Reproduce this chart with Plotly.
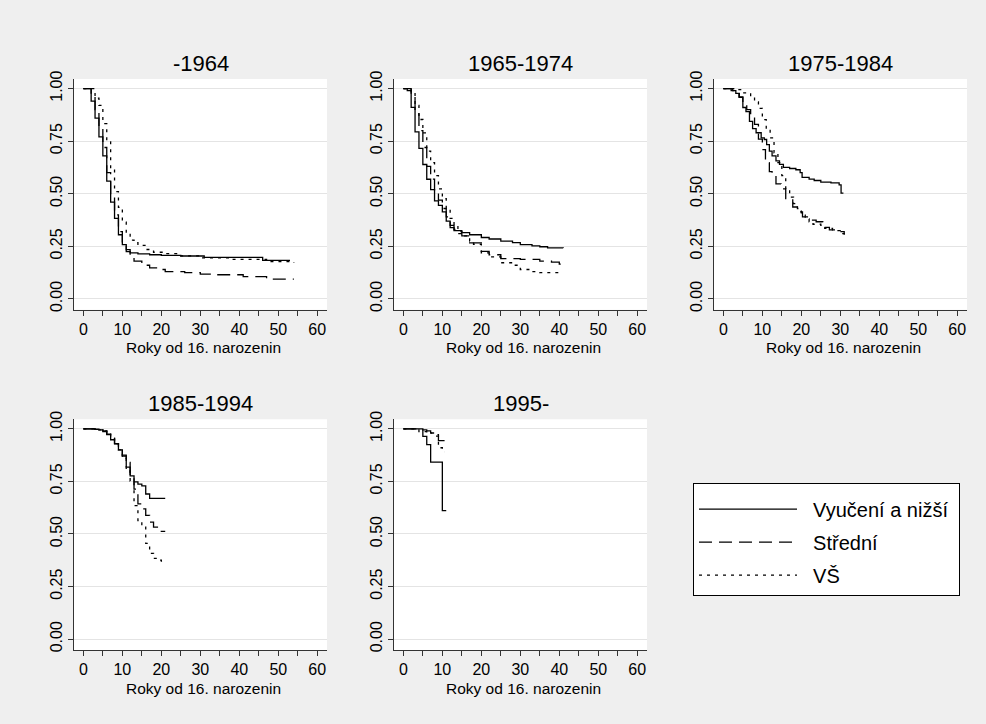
import plotly.graph_objects as go

# ---- data ----
cohorts = ["-1964", "1965-1974", "1975-1984", "1985-1994", "1995-"]
education = ["Vyučení a nižší", "Střední", "VŠ"]

# -1964
t_c1_vyuc = [0, 2, 3, 4, 5, 6, 7, 8, 9, 10, 11, 12, 14, 17, 20, 25, 31, 46, 53]
s_c1_vyuc = [1, 0.94, 0.86, 0.77, 0.68, 0.56, 0.46, 0.383, 0.305, 0.258, 0.234, 0.219, 0.214, 0.21, 0.207, 0.204, 0.198, 0.183, 0.183]
t_c1_stred = [0, 2, 3, 4, 5, 6, 7, 8, 9, 10, 11, 12, 13, 15, 17, 19, 21, 26, 30, 34, 41, 47, 54]
s_c1_stred = [1, 0.97, 0.9, 0.81, 0.72, 0.6, 0.49, 0.4, 0.32, 0.26, 0.225, 0.2, 0.18, 0.16, 0.148, 0.14, 0.13, 0.125, 0.118, 0.115, 0.106, 0.094, 0.094]
t_c1_vs = [0, 3, 4, 5, 6, 7, 8, 9, 10, 11, 12, 13, 14, 16, 18, 21, 25, 30, 38, 47, 54]
s_c1_vs = [1, 0.955, 0.92, 0.833, 0.747, 0.62, 0.51, 0.435, 0.365, 0.31, 0.28, 0.267, 0.255, 0.235, 0.222, 0.215, 0.205, 0.195, 0.188, 0.178, 0.173]

# 1965-1974
t_c2_vyuc = [0, 1, 2, 3, 4, 5, 6, 7, 8, 9, 10, 11, 12, 13, 15, 17, 20, 22, 25, 28, 30, 33, 35, 37, 41]
s_c2_vyuc = [1, 0.99, 0.911, 0.794, 0.716, 0.639, 0.569, 0.52, 0.466, 0.445, 0.414, 0.37, 0.339, 0.325, 0.315, 0.305, 0.292, 0.285, 0.275, 0.268, 0.258, 0.252, 0.248, 0.243, 0.242]
t_c2_stred = [0, 2, 3, 4, 5, 6, 7, 8, 9, 10, 11, 12, 13, 14, 15, 17, 20, 22, 25, 30, 35, 38, 40, 41]
s_c2_stred = [1, 0.97, 0.88, 0.8, 0.72, 0.63, 0.57, 0.51, 0.47, 0.43, 0.39, 0.35, 0.33, 0.31, 0.30, 0.266, 0.226, 0.21, 0.192, 0.188, 0.18, 0.175, 0.165, 0.16]
t_c2_vs = [0, 2, 3, 4, 5, 6, 7, 8, 9, 10, 11, 12, 13, 14, 15, 17, 18, 20, 22, 25, 28, 30, 33, 35, 40]
s_c2_vs = [1, 0.98, 0.92, 0.853, 0.789, 0.703, 0.648, 0.586, 0.523, 0.477, 0.43, 0.383, 0.352, 0.32, 0.30, 0.275, 0.26, 0.219, 0.2, 0.172, 0.16, 0.14, 0.13, 0.125, 0.125]

# 1975-1984
t_c3_vyuc = [0, 2.4, 3.2, 4.1, 5, 5.8, 6.7, 7.5, 8.4, 9.7, 10.5, 11.1, 11.8, 12.5, 13.5, 14.4, 15.4, 17, 18.6, 19.7, 20.2, 22, 23.3, 25, 27.6, 29.7, 30.2, 30.8]
s_c3_vyuc = [1, 0.99, 0.977, 0.958, 0.91, 0.89, 0.844, 0.81, 0.79, 0.766, 0.758, 0.734, 0.703, 0.68, 0.656, 0.64, 0.625, 0.62, 0.614, 0.60, 0.578, 0.57, 0.563, 0.555, 0.552, 0.542, 0.503, 0.503]
t_c3_stred = [0, 2, 4, 5, 6, 7, 8, 9, 10, 10.8, 11.8, 12.5, 13.5, 14.8, 16, 17.8, 19, 20.3, 22, 23.8, 25.5, 27.2, 29, 31]
s_c3_stred = [1, 0.99, 0.96, 0.93, 0.9, 0.86, 0.83, 0.76, 0.71, 0.648, 0.605, 0.586, 0.547, 0.523, 0.477, 0.437, 0.414, 0.39, 0.375, 0.367, 0.34, 0.328, 0.32, 0.308]
t_c3_vs = [0, 3, 5, 7, 8, 9, 10, 11, 12, 13, 14, 15, 16, 17, 18, 19, 20, 21, 22, 23, 25, 26, 28, 30, 31]
s_c3_vs = [1, 0.995, 0.98, 0.96, 0.937, 0.906, 0.852, 0.805, 0.766, 0.695, 0.648, 0.586, 0.523, 0.484, 0.453, 0.43, 0.398, 0.38, 0.367, 0.355, 0.35, 0.335, 0.325, 0.31, 0.30]

# 1985-1994
t_c4_vyuc = [0, 3, 4, 5, 6, 7, 8, 9, 10, 11, 12, 13, 14, 15, 16, 17, 21]
s_c4_vyuc = [1, 0.998, 0.995, 0.987, 0.972, 0.948, 0.928, 0.90, 0.87, 0.818, 0.776, 0.748, 0.737, 0.729, 0.69, 0.669, 0.669]
t_c4_stred = [0, 3, 5, 6, 7, 8, 9, 10, 11, 12, 13, 14, 15, 16, 17, 18, 19, 20, 21]
s_c4_stred = [1, 0.998, 0.99, 0.975, 0.955, 0.93, 0.905, 0.875, 0.84, 0.768, 0.713, 0.643, 0.619, 0.588, 0.556, 0.533, 0.525, 0.512, 0.512]
t_c4_vs = [0, 4, 5, 6, 7, 8, 9, 10, 11, 12, 13, 14, 15, 16, 17, 18, 19, 20, 21]
s_c4_vs = [1, 0.995, 0.99, 0.98, 0.96, 0.93, 0.9, 0.87, 0.80, 0.752, 0.635, 0.564, 0.533, 0.455, 0.408, 0.384, 0.376, 0.371, 0.364]

# 1995-
t_c5_vyuc = [0, 5, 6, 7, 10, 11]
s_c5_vyuc = [1, 0.964, 0.925, 0.842, 0.611, 0.611]
t_c5_stred = [0, 5, 6, 7, 8, 9, 11]
s_c5_stred = [1, 0.995, 0.99, 0.98, 0.972, 0.944, 0.944]
t_c5_vs = [0, 4, 6, 8, 9, 10, 10.5]
s_c5_vs = [1, 0.987, 0.98, 0.965, 0.91, 0.89, 0.89]

x_tick_vals = [0, 10, 20, 30, 40, 50, 60]
y_tick_vals = [0, 0.25, 0.5, 0.75, 1.0]
x_title = "Roky od 16. narozenin"

series = [
    [(t_c1_vyuc, s_c1_vyuc), (t_c1_stred, s_c1_stred), (t_c1_vs, s_c1_vs)],
    [(t_c2_vyuc, s_c2_vyuc), (t_c2_stred, s_c2_stred), (t_c2_vs, s_c2_vs)],
    [(t_c3_vyuc, s_c3_vyuc), (t_c3_stred, s_c3_stred), (t_c3_vs, s_c3_vs)],
    [(t_c4_vyuc, s_c4_vyuc), (t_c4_stred, s_c4_stred), (t_c4_vs, s_c4_vs)],
    [(t_c5_vyuc, s_c5_vyuc), (t_c5_stred, s_c5_stred), (t_c5_vs, s_c5_vs)],
]

# ---- styling ----
W, H = 986, 724
FONT = "Liberation Sans, Arial, sans-serif"
dashes = ["solid", "13px,7px", "3px,5px"]
col_px = [(74, 327), (394, 647), (714, 967)]
row_px = [(72, 306), (417, 651)]
NB = "\u00a0"

fig = go.Figure()
layout = {}
for i, cohort in enumerate(cohorts):
    r, c = divmod(i, 3)
    n = "" if i == 0 else str(i + 1)
    x0, x1 = col_px[c]
    y0, y1 = row_px[r]
    layout["xaxis" + n] = dict(
        domain=[x0 / W, x1 / W], anchor="y" + n, range=[-2.4, 62.5],
        tickvals=x_tick_vals, ticks="outside", ticklen=5, tickwidth=1, tickcolor="#333",
        minor=dict(dtick=5, tick0=0, ticks="outside", ticklen=5, tickcolor="#333", showgrid=False),
        showline=True, linecolor="#333", linewidth=1, showgrid=False, zeroline=False,
        tickfont=dict(family=FONT, size=16, color="#000"),
        fixedrange=True,
    )
    layout["yaxis" + n] = dict(
        domain=[1 - y1 / H, 1 - y0 / H], anchor="x" + n, range=[-0.0516, 1.0455],
        tickvals=y_tick_vals, tickformat=".2f", tickangle=-90,
        ticks="outside", ticklen=5, tickwidth=1, tickcolor="#333",
        showline=True, linecolor="#333", linewidth=1,
        showgrid=True, gridcolor="#e4e4e4", gridwidth=1, zeroline=False,
        tickfont=dict(family=FONT, size=16, color="#000"),
        fixedrange=True,
    )
    for j, (tt, ss) in enumerate(series[i]):
        fig.add_trace(go.Scatter(
            x=tt, y=ss, mode="lines", line=dict(shape="hv", color="#000", width=1.3, dash=dashes[j]),
            name=NB * 2 + education[j] + NB, showlegend=(i == 0), legendgroup=education[j],
            xaxis="x" + n, yaxis="y" + n, hoverinfo="skip",
        ))
    # panel title
    fig.add_annotation(
        text=cohort, xref="paper", yref="paper",
        x=((x0 + x1) / 2) / W, y=1 - (y0 - 16) / H, xanchor="center", yanchor="middle",
        showarrow=False, font=dict(family=FONT, size=22, color="#000"),
    )
    # x-axis title
    fig.add_annotation(
        text=x_title, xref="paper", yref="paper",
        x=((x0 + x1) / 2 + 3) / W, y=1 - (y1 + 28) / H, xanchor="center", yanchor="top",
        showarrow=False, font=dict(family=FONT, size=15.5, color="#000"),
    )

fig.update_layout(
    **layout,
    width=W, height=H,
    margin=dict(l=0, r=0, t=0, b=0),
    paper_bgcolor="#efefef", plot_bgcolor="#ffffff",
    font=dict(family=FONT, color="#000"),
    legend=dict(
        x=693 / W, y=1 - 482 / H, xanchor="left", yanchor="top",
        bgcolor="#ffffff", bordercolor="#000", borderwidth=1,
        font=dict(family=FONT, size=20, color="#000"),
        itemwidth=98, tracegroupgap=4,
        title=dict(text=NB, font=dict(size=4)),
    ),
    showlegend=True,
)

fig.write_html("out.html", config={"displayModeBar": False},
               post_script="document.body.style.margin='0';document.body.style.overflow='hidden';")
